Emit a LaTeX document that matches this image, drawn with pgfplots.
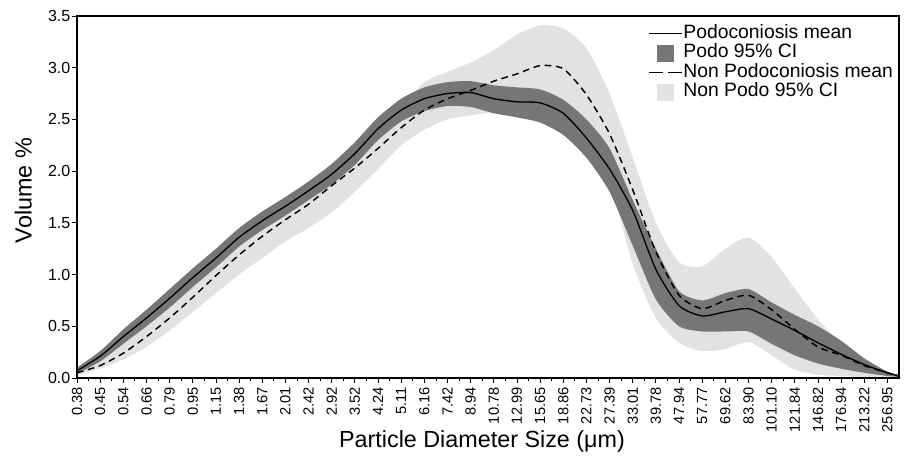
\documentclass[border=0pt]{standalone}
\usepackage{fontspec}
\setmainfont{Liberation Sans}
\usepackage{pgfplots}
\pgfplotsset{compat=1.18}
\usepackage{pgfplotstable}
\usepgfplotslibrary{fillbetween}
\definecolor{podo}{RGB}{118,118,118}
\definecolor{nonpodo}{RGB}{226,226,226}

\pgfplotstableread{
x S D Plo Phi Nlo Nhi
0 0.07 0.05 0.04 0.10 0.03 0.08
1 0.21 0.12 0.16 0.26 0.09 0.18
2 0.40 0.24 0.33 0.47 0.18 0.33
3 0.58 0.40 0.50 0.66 0.30 0.50
4 0.77 0.58 0.68 0.86 0.46 0.70
5 0.97 0.78 0.88 1.06 0.64 0.90
6 1.16 0.99 1.07 1.25 0.82 1.10
7 1.36 1.19 1.27 1.45 1.00 1.30
8 1.52 1.37 1.43 1.61 1.16 1.48
9 1.66 1.53 1.57 1.75 1.32 1.64
10 1.81 1.68 1.72 1.90 1.45 1.80
11 1.97 1.86 1.87 2.07 1.60 1.98
12 2.17 2.03 2.06 2.28 1.80 2.17
13 2.41 2.22 2.30 2.52 2.02 2.38
14 2.59 2.42 2.48 2.70 2.25 2.62
15 2.70 2.59 2.58 2.81 2.40 2.86
16 2.75 2.70 2.63 2.86 2.50 2.96
17 2.76 2.78 2.62 2.87 2.54 3.05
18 2.70 2.87 2.56 2.83 2.57 3.17
19 2.67 2.94 2.52 2.81 2.57 3.32
20 2.66 3.02 2.47 2.79 2.56 3.41
21 2.56 2.99 2.35 2.69 2.50 3.38
22 2.32 2.74 2.13 2.50 2.22 3.19
23 2.02 2.36 1.80 2.22 1.90 2.75
24 1.62 1.82 1.28 1.72 1.10 2.13
25 1.05 1.22 0.76 1.25 0.58 1.50
26 0.70 0.80 0.50 0.84 0.34 1.12
27 0.60 0.67 0.45 0.75 0.26 1.08
28 0.64 0.75 0.45 0.82 0.28 1.25
29 0.67 0.80 0.45 0.86 0.35 1.36
30 0.57 0.66 0.33 0.73 0.22 1.17
31 0.46 0.47 0.22 0.61 0.08 0.86
32 0.34 0.30 0.14 0.50 0.03 0.57
33 0.23 0.22 0.09 0.36 0.02 0.33
34 0.13 0.12 0.05 0.19 0.01 0.16
35 0.05 0.05 0.02 0.06 0.01 0.04
35.5 0.02 0.02 0.01 0.03 0.00 0.02
}\data

\begin{document}
\begin{tikzpicture}
\begin{axis}[
  scale only axis,
  width=616.5pt, height=271.5pt,
  xmin=0, xmax=35.5, ymin=0, ymax=3.5,
  xtick={0,...,35},
  xticklabels={0.38,0.45,0.54,0.66,0.79,0.95,1.15,1.38,1.67,2.01,2.42,2.92,3.52,4.24,5.11,6.16,7.42,8.94,10.78,12.99,15.65,18.86,22.73,27.39,33.01,39.78,47.94,57.77,69.62,83.90,101.10,121.84,146.82,176.94,213.22,256.95},
  minor x tick num=1,
  ytick={0,0.5,1,1.5,2,2.5,3,3.5},
  tick pos=left, tick align=outside,
  major tick length=3.5pt, minor tick length=2.5pt,
  every tick/.style={black, line width=0.6pt},
  axis line style={line width=1.1pt},
  axis on top,
  /pgf/number format/assume math mode=true,
  yticklabel style={font=\fontsize{12}{13}\selectfont, xshift=2pt, /pgf/number format/fixed, /pgf/number format/fixed zerofill, /pgf/number format/precision=1},
  xticklabel style={font=\fontsize{11}{12}\selectfont, rotate=90, anchor=east},
  xlabel={Particle Diameter Size (μm)},
  ylabel={Volume \%},
  label style={font=\fontsize{17.5}{19}\selectfont},
  xlabel style={at={(axis description cs:0.4927,-0.176)}, anchor=center},
  ylabel style={at={(axis description cs:-0.0653,0.518)}, anchor=center},
  legend style={draw=none, fill=none, at={(1,1)}, anchor=north east, xshift=-4pt, yshift=-5.8pt,
    inner sep=0pt, outer sep=0pt,
    font=\fontsize{14.5}{15}\selectfont, row sep=0.1pt,
    nodes={inner sep=0.5pt, text height=10.5pt, text depth=3pt}},
  legend cell align=left,
]
\addplot[name path=nh, draw=none, smooth, tension=0.4, forget plot] table[x=x,y=Nhi]{\data};
\addplot[name path=nl, draw=none, smooth, tension=0.4, forget plot] table[x=x,y=Nlo]{\data};
\addplot[fill=nonpodo, draw=none, forget plot] fill between[of=nh and nl];
\addplot[name path=ph, draw=none, smooth, tension=0.4, forget plot] table[x=x,y=Phi]{\data};
\addplot[name path=pl, draw=none, smooth, tension=0.4, forget plot] table[x=x,y=Plo]{\data};
\addplot[fill=podo, draw=none, forget plot] fill between[of=ph and pl];
\addplot[black, line width=1pt, smooth, tension=0.4, forget plot] table[x=x,y=S]{\data};
\addplot[black, line width=1.1pt, dash pattern=on 5pt off 3.5pt, smooth, tension=0.4, forget plot] table[x=x,y=D]{\data};

\addlegendimage{legend image code/.code={\draw[black, line width=0.6pt] (0pt,0pt) -- (25pt,0pt);}}
\addlegendentry{Podoconiosis mean}
\addlegendimage{legend image code/.code={\fill[podo] (6.5pt,-6pt) rectangle (18.5pt,6pt);}}
\addlegendentry{Podo 95\% CI}
\addlegendimage{legend image code/.code={\draw[black, line width=0.6pt, dash pattern=on 10.5pt off 4pt] (0pt,0pt) -- (25pt,0pt);}}
\addlegendentry{Non Podoconiosis mean}
\addlegendimage{legend image code/.code={\fill[nonpodo] (6.5pt,-6pt) rectangle (18.5pt,6pt);}}
\addlegendentry{Non Podo 95\% CI}
\end{axis}
\path (-57.75pt,-66pt) (620.25pt,283.5pt);
\end{tikzpicture}
\end{document}
